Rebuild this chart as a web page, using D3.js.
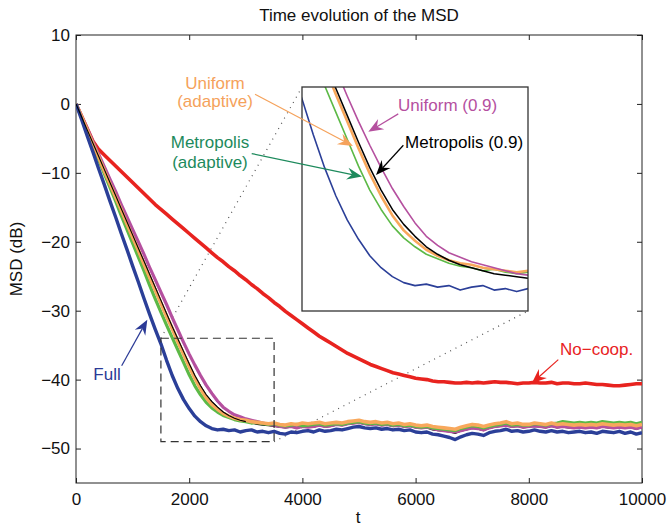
<!DOCTYPE html>
<html>
<head>
<meta charset="utf-8">
<script src="https://cdn.jsdelivr.net/npm/d3@7"></script>
<style>
body{margin:0;background:#fff;}
text{font-family:"Liberation Sans",Arial,Helvetica,sans-serif;}
</style>
</head>
<body>
<div id="chart"></div>
<script>
// time axis, one sample every 100 iterations
var tSteps = d3.range(0, 10001, 100);

// MSD (dB)
var fullMSD = [
 0, -2.3, -4.7, -7.0, -9.4, -11.7, -14.1, -16.4, -18.8, -21.1,
 -23.5, -25.8, -28.2, -30.5, -32.7, -34.8, -37.2, -39.4, -41.3, -42.9,
 -44.2, -45.3, -46.1, -46.7, -47.1, -47.3, -47.2, -47.4, -47.3, -47.6,
 -47.4, -47.3, -47.6, -47.5, -47.7, -47.5, -47.8, -47.9, -47.6, -47.7,
 -47.5, -47.4, -47.6, -47.3, -47.5, -47.4, -47.2, -47.3, -47.1, -46.9,
 -46.8, -47.0, -47.1, -47.0, -47.2, -47.1, -47.3, -47.2, -47.4, -47.3,
 -47.6, -47.7, -47.6, -47.9, -48.0, -48.2, -48.4, -48.7, -48.3, -48.0,
 -47.8, -47.9, -48.1, -47.7, -47.5, -47.4, -47.2, -47.5, -47.4, -47.6,
 -47.5, -47.3, -47.5, -47.6, -47.4, -47.6, -47.5, -47.7, -47.6, -47.5,
 -47.7, -47.6, -47.8, -47.5, -47.6, -47.7, -47.5, -47.8, -47.6, -47.9,
 -47.7];
var metroAdapt = [
 0, -2.0, -4.0, -6.1, -8.1, -10.1, -12.1, -14.1, -16.2, -18.2,
 -20.2, -22.2, -24.2, -26.3, -28.3, -30.2, -32.1, -33.9, -35.7, -37.5,
 -39.3, -40.9, -42.2, -43.3, -44.1, -44.7, -45.2, -45.5, -45.8, -46.0,
 -46.1, -46.3, -46.2, -46.4, -46.5, -46.4, -46.6, -46.7, -46.6, -46.5,
 -46.7, -46.6, -46.5, -46.4, -46.6, -46.5, -46.4, -46.5, -46.3, -46.2,
 -46.1, -46.3, -46.4, -46.3, -46.5, -46.4, -46.6, -46.5, -46.7, -46.6,
 -46.8, -46.9, -46.8, -47.0, -47.1, -47.2, -47.3, -47.4, -47.1, -46.9,
 -46.7, -46.8, -47.0, -46.8, -46.6, -46.5, -46.3, -46.6, -46.5, -46.6,
 -46.6, -46.4, -46.5, -46.6, -46.4, -46.3, -46.1, -46.2, -46.3, -46.2,
 -46.3, -46.2, -46.3, -46.1, -46.2, -46.3, -46.2, -46.3, -46.2, -46.4,
 -46.2];
var uniAdapt = [
 0, -1.9, -3.9, -5.8, -7.7, -9.7, -11.6, -13.5, -15.4, -17.4,
 -19.3, -21.2, -23.2, -25.1, -27.0, -28.9, -30.8, -32.6, -34.5, -36.3,
 -38.1, -39.8, -41.3, -42.6, -43.6, -44.3, -44.9, -45.3, -45.6, -45.8,
 -45.9, -46.1, -46.2, -46.3, -46.4, -46.3, -46.5, -46.6, -46.4, -46.5,
 -46.3, -46.4, -46.3, -46.2, -46.4, -46.3, -46.2, -46.3, -46.1, -46.0,
 -45.9, -46.1, -46.2, -46.1, -46.3, -46.2, -46.4, -46.3, -46.5, -46.4,
 -46.6, -46.7, -46.6, -46.8, -46.9, -47.0, -47.1, -47.2, -46.9, -46.7,
 -46.5, -46.6, -46.8, -46.6, -46.4, -46.3, -46.1, -46.4, -46.3, -46.5,
 -46.5, -46.3, -46.4, -46.5, -46.3, -46.5, -46.4, -46.5, -46.6, -46.5,
 -46.6, -46.5, -46.6, -46.4, -46.5, -46.6, -46.5, -46.6, -46.5, -46.7,
 -46.5];
var metro09 = [
 0, -1.9, -3.8, -5.7, -7.6, -9.5, -11.4, -13.3, -15.2, -17.1,
 -19.0, -20.9, -22.8, -24.7, -26.6, -28.5, -30.4, -32.3, -34.1, -35.9,
 -37.7, -39.4, -40.9, -42.2, -43.2, -44.0, -44.7, -45.2, -45.6, -45.9,
 -46.1, -46.3, -46.5, -46.6, -46.7, -46.8, -46.9, -47.0, -46.9, -47.0,
 -46.9, -46.8, -46.9, -46.7, -46.9, -46.8, -46.6, -46.7, -46.5, -46.4,
 -46.3, -46.5, -46.6, -46.5, -46.7, -46.6, -46.8, -46.7, -46.9, -46.8,
 -47.0, -47.1, -47.0, -47.3, -47.4, -47.5, -47.6, -47.8, -47.5, -47.3,
 -47.1, -47.2, -47.4, -47.1, -46.9, -46.8, -46.7, -46.9, -46.8, -47.0,
 -46.9, -46.8, -46.9, -47.0, -46.8, -47.0, -46.9, -47.0, -47.1, -47.0,
 -47.1, -47.0, -47.1, -46.9, -47.0, -47.1, -47.0, -47.1, -47.0, -47.2,
 -47.0];
var uni09 = [
 0, -1.8, -3.6, -5.5, -7.3, -9.1, -10.9, -12.7, -14.6, -16.4,
 -18.2, -20.0, -21.8, -23.7, -25.5, -27.3, -29.1, -31.0, -32.8, -34.6,
 -36.3, -37.9, -39.4, -40.8, -42.0, -43.1, -44.0, -44.6, -45.1, -45.4,
 -45.7, -45.9, -46.1, -46.3, -46.5, -46.6, -46.8, -46.9, -46.8, -47.0,
 -46.8, -46.9, -46.8, -46.6, -46.8, -46.7, -46.5, -46.6, -46.4, -46.3,
 -46.2, -46.4, -46.5, -46.4, -46.6, -46.5, -46.7, -46.6, -46.8, -46.7,
 -46.9, -47.0, -46.9, -47.1, -47.3, -47.4, -47.5, -47.6, -47.4, -47.2,
 -47.0, -47.1, -47.3, -47.0, -46.8, -46.7, -46.6, -46.8, -46.7, -46.9,
 -46.8, -46.7, -46.8, -46.9, -46.7, -46.9, -46.8, -46.9, -47.0, -46.9,
 -47.0, -46.9, -47.0, -46.8, -46.9, -47.0, -46.9, -47.0, -46.9, -47.1,
 -46.9];
var noCoop = [
 0, -1.8, -3.6, -5.4, -6.6, -7.4, -8.2, -9.0, -9.8, -10.6,
 -11.4, -12.2, -13.0, -13.8, -14.6, -15.3, -16.0, -16.7, -17.4, -18.1,
 -18.8, -19.5, -20.2, -20.9, -21.6, -22.3, -22.9, -23.6, -24.2, -24.9,
 -25.5, -26.2, -26.8, -27.5, -28.1, -28.8, -29.4, -30.1, -30.7, -31.3,
 -31.9, -32.5, -33.1, -33.7, -34.2, -34.7, -35.2, -35.7, -36.2, -36.6,
 -37.0, -37.4, -37.8, -38.1, -38.4, -38.7, -39.0, -39.2, -39.4, -39.6,
 -39.8, -39.9, -40.0, -40.2, -40.3, -40.3, -40.4, -40.5, -40.5, -40.4,
 -40.5, -40.4, -40.5, -40.4, -40.3, -40.4, -40.4, -40.5, -40.6, -40.5,
 -40.5, -40.4, -40.5, -40.5, -40.4, -40.6, -40.5, -40.5, -40.6, -40.6,
 -40.5, -40.6, -40.7, -40.7, -40.8, -40.9, -40.9, -40.8, -40.7, -40.6,
 -40.6];

var xTicks = [0, 2000, 4000, 6000, 8000, 10000];
var yTicks = [10, 0, -10, -20, -30, -40, -50];
var zoomT = [1500, 3500];   // dashed box / inset range in t
var zoomMSD = [-49, -34];   // dashed box / inset range in dB

var W = 668, H = 527;
var svg = d3.select("#chart").append("svg")
    .attr("width", W)
    .attr("height", H);
svg.append("rect").attr("width", W).attr("height", H).attr("fill", "#fff");

var x = d3.scaleLinear().domain([0, 10000]).range([76, 642]);
var y = d3.scaleLinear().domain([-55, 10]).range([483, 35]);
var xi = d3.scaleLinear().domain(zoomT).range([302, 528]);
var yi = d3.scaleLinear().domain(zoomMSD).range([311, 87]);

var defs = svg.append("defs");
defs.append("clipPath").attr("id", "clipMain").append("rect")
    .attr("x", 76).attr("y", 35).attr("width", 566).attr("height", 448);
defs.append("clipPath").attr("id", "clipInset").append("rect")
    .attr("x", 302).attr("y", 87).attr("width", 226).attr("height", 224);

// axes (MATLAB style, ticks inward, box on)
var fs = "17px";
var fmt = d3.format("d");
var gx = svg.append("g").attr("transform", "translate(0,483)")
    .call(d3.axisBottom(x).tickValues(xTicks).tickFormat(fmt).tickSize(-5).tickPadding(10));
var gy = svg.append("g").attr("transform", "translate(76,0)")
    .call(d3.axisLeft(y).tickValues(yTicks).tickFormat(fmt).tickSize(-5).tickPadding(6));
var gx2 = svg.append("g").attr("transform", "translate(0,35)")
    .call(d3.axisTop(x).tickValues(xTicks).tickSize(-5).tickFormat(""));
var gy2 = svg.append("g").attr("transform", "translate(642,0)")
    .call(d3.axisRight(y).tickValues(yTicks).tickSize(-5).tickFormat(""));
[gx, gy, gx2, gy2].forEach(function(g){
    g.select(".domain").remove();
    g.attr("font-size", fs).attr("font-family", null);
    g.selectAll("line").attr("stroke", "#222");
    g.selectAll("text").attr("fill", "#111");
});
svg.append("rect")
    .attr("x", 76).attr("y", 35).attr("width", 566).attr("height", 448)
    .attr("fill", "none").attr("stroke", "#222").attr("stroke-width", 1);

svg.append("text").attr("x", 359).attr("y", 21).attr("text-anchor", "middle")
    .attr("font-size", fs).attr("fill", "#111").text("Time evolution of the MSD");
svg.append("text").attr("x", 358).attr("y", 523).attr("text-anchor", "middle")
    .attr("font-size", fs).attr("fill", "#111").text("t");
svg.append("text").attr("transform", "translate(22,259) rotate(-90)")
    .attr("text-anchor", "middle").attr("font-size", fs).attr("fill", "#111")
    .text("MSD (dB)");

// dotted connectors between dashed box and inset
function dotted(x1, y1, x2, y2){
    svg.append("line")
        .attr("x1", x1).attr("y1", y1).attr("x2", x2).attr("y2", y2)
        .attr("stroke", "#555").attr("stroke-width", 1.2)
        .attr("stroke-dasharray", "1,5");
}
dotted(x(zoomT[0]), y(zoomMSD[1]), xi(zoomT[0]), yi(zoomMSD[1]));
dotted(x(zoomT[1]), y(zoomMSD[0]), xi(zoomT[1]), yi(zoomMSD[0]));

// curves
function lineGen(sx, sy){
    return d3.line()
        .x(function(d, i){ return sx(tSteps[i]); })
        .y(function(d){ return sy(d); });
}
var mainOrder = [
    {v: noCoop, c: "#e8231f", w: 3.6},
    {v: metro09, c: "#000", w: 1.1},
    {v: uni09, c: "#b5509f", w: 3.2},
    {v: metroAdapt, c: "#5cb946", w: 3.2},
    {v: uniAdapt, c: "#f8a85c", w: 3.6},
    {v: fullMSD, c: "#2b3f98", w: 3.4}
];
var gMain = svg.append("g").attr("clip-path", "url(#clipMain)");
mainOrder.forEach(function(s){
    gMain.append("path").attr("d", lineGen(x, y)(s.v))
        .attr("fill", "none").attr("stroke", s.c)
        .attr("stroke-width", s.w).attr("stroke-linejoin", "round");
});
// black thin trace stays visible on the descent
gMain.append("path").attr("d", lineGen(x, y)(metro09.slice(0, 31)))
    .attr("fill", "none").attr("stroke", "#000").attr("stroke-width", 1.1);

// dashed zoom box
svg.append("rect")
    .attr("x", x(zoomT[0])).attr("y", y(zoomMSD[1]))
    .attr("width", x(zoomT[1]) - x(zoomT[0]))
    .attr("height", y(zoomMSD[0]) - y(zoomMSD[1]))
    .attr("fill", "none").attr("stroke", "#333").attr("stroke-width", 1.2)
    .attr("stroke-dasharray", "8,5");

// inset
svg.append("rect").attr("x", 302).attr("y", 87).attr("width", 226).attr("height", 224)
    .attr("fill", "#fff");
var insetOrder = [
    {v: fullMSD, c: "#2b3f98", w: 1.6},
    {v: metroAdapt, c: "#5cb946", w: 1.6},
    {v: uniAdapt, c: "#f8a85c", w: 2.6},
    {v: metro09, c: "#000", w: 1.5},
    {v: uni09, c: "#b5509f", w: 1.6}
];
var gIn = svg.append("g").attr("clip-path", "url(#clipInset)");
insetOrder.forEach(function(s){
    gIn.append("path").attr("d", lineGen(xi, yi)(s.v))
        .attr("fill", "none").attr("stroke", s.c)
        .attr("stroke-width", s.w).attr("stroke-linejoin", "round");
});
svg.append("rect").attr("x", 302).attr("y", 87).attr("width", 226).attr("height", 224)
    .attr("fill", "none").attr("stroke", "#333").attr("stroke-width", 1.3);

// annotations
function arrow(x1, y1, x2, y2, color){
    var a = Math.atan2(y2 - y1, x2 - x1), ca = Math.cos(a), sa = Math.sin(a);
    var L = 15, hw = 6, N = 10;
    svg.append("line")
        .attr("x1", x1).attr("y1", y1)
        .attr("x2", x2 - N * ca).attr("y2", y2 - N * sa)
        .attr("stroke", color).attr("stroke-width", 1.2);
    var p = [[x2, y2],
             [x2 - L * ca + hw * sa, y2 - L * sa - hw * ca],
             [x2 - N * ca, y2 - N * sa],
             [x2 - L * ca - hw * sa, y2 - L * sa + hw * ca]];
    svg.append("path").attr("d", "M" + p.join("L") + "Z").attr("fill", color);
}
function label(tx, ty, str, color, anchor){
    svg.append("text").attr("x", tx).attr("y", ty)
        .attr("text-anchor", anchor || "middle")
        .attr("font-size", fs).attr("fill", color).text(str);
}

var cOr = "#f5a25b", cGr = "#1d8a5c", cMg = "#b5509f", cBl = "#2b3a96", cRd = "#e8231f";
label(x(2456), y(2.2), "Uniform", cOr);
label(x(2456), y(-0.45), "(adaptive)", cOr);
arrow(x(3163), y(1.4), xi(1951), yi(-37.95), cOr);

label(x(2367), y(-6.4), "Metropolis", cGr);
label(x(2367), y(-9.3), "(adaptive)", cGr);
arrow(x(3104), y(-7.2), xi(2031), yi(-40.0), cGr);

label(xi(2350), yi(-35.6), "Uniform (0.9)", cMg, "start");
arrow(xi(2352), yi(-35.8), xi(2087), yi(-37.0), cMg);

label(xi(2412), yi(-38.1), "Metropolis (0.9)", "#000", "start");
arrow(xi(2397), yi(-37.9), xi(2155), yi(-39.9), "#000");

label(x(548), y(-40.1), "Full", cBl);
arrow(x(807), y(-38.0), x(1260), y(-31.3), cBl);

label(x(8551), y(-36.4), "No\u2212coop.", cRd, "start");
arrow(x(8521), y(-37.1), x(8051), y(-40.55), cRd);
</script>
</body>
</html>
